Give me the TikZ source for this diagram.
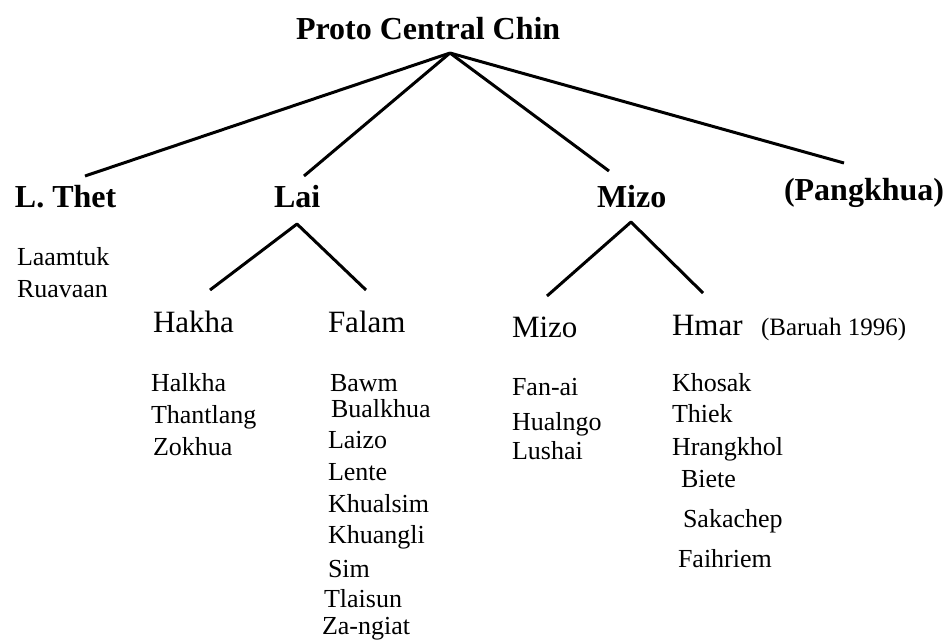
\documentclass[tikz,border=0pt]{standalone}
\usepackage{fontspec}
\setmainfont{Liberation Serif}
\begin{document}
\begin{tikzpicture}[x=1pt,y=-1pt,
  lbl/.style={anchor=base west,inner sep=0pt,outer sep=0pt},
  toplbl/.style={lbl,font=\fontsize{32}{36}\selectfont\bfseries},
  grp/.style={lbl,font=\fontsize{31}{35}\selectfont},
  dialect/.style={lbl,font=\fontsize{26}{30}\selectfont},
  cite/.style={lbl,font=\fontsize{25}{29}\selectfont},
  branch/.style={line width=3pt,line cap=butt,line join=round}]
\useasboundingbox (0,0) rectangle (946,641);

% root
\node[toplbl] (pcc) at (296,39) {Proto Central Chin};

% first-level branches
\node[toplbl] (lthet) at (15,207) {L. Thet};
\node[toplbl] (lai) at (274,207) {Lai};
\node[toplbl] (mizo) at (597,207) {Mizo};
\node[toplbl] (pangkhua) at (784,200) {(Pangkhua)};

% branch points and line ends
\coordinate (pcc-fork) at (450,53);
\coordinate (lthet-end) at (85,176);
\coordinate (lai-end) at (304,176);
\coordinate (mizo-end) at (609,171);
\coordinate (pangkhua-end) at (844,163);
\coordinate (lai-fork) at (297,224);
\coordinate (hakha-end) at (210,290);
\coordinate (falam-end) at (366,290);
\coordinate (mizo-fork) at (631,222);
\coordinate (mizo2-end) at (547,296);
\coordinate (hmar-end) at (703,293);

\draw[branch] (pcc-fork) -- (lthet-end);
\draw[branch] (pcc-fork) -- (lai-end);
\draw[branch] (pcc-fork) -- (mizo-end);
\draw[branch] (pcc-fork) -- (pangkhua-end);
\draw[branch] (hakha-end) -- (lai-fork) -- (falam-end);
\draw[branch] (mizo2-end) -- (mizo-fork) -- (hmar-end);

% L. Thet varieties
\node[dialect] (laamtuk) at (17,265) {Laamtuk};
\node[dialect] (ruavaan) at (17,297) {Ruavaan};

% Lai subgroups
\node[grp] (hakha) at (153,332) {Hakha};
\node[grp] (falam) at (328,332) {Falam};

\node[dialect] (halkha) at (151,391) {Halkha};
\node[dialect] (thantlang) at (151,423) {Thantlang};
\node[dialect] (zokhua) at (153,455) {Zokhua};

\node[dialect] (bawm) at (330,391) {Bawm};
\node[dialect] (bualkhua) at (331,417) {Bualkhua};
\node[dialect] (laizo) at (328,448) {Laizo};
\node[dialect] (lente) at (328,480) {Lente};
\node[dialect] (khualsim) at (328,512) {Khualsim};
\node[dialect] (khuangli) at (328,543) {Khuangli};
\node[dialect] (sim) at (328,577) {Sim};
\node[dialect] (tlaisun) at (324,607) {Tlaisun};
\node[dialect] (zangiat) at (322,634) {Za-ngiat};

% Mizo subgroups
\node[grp] (mizo2) at (512,337) {Mizo};
\node[grp] (hmar) at (672,335) {Hmar};
\node[cite] (baruah) at (761,335) {(Baruah 1996)};

\node[dialect] (fanai) at (512,395) {Fan-ai};
\node[dialect] (hualngo) at (512,430) {Hualngo};
\node[dialect] (lushai) at (512,459) {Lushai};

\node[dialect] (khosak) at (672,391) {Khosak};
\node[dialect] (thiek) at (672,422) {Thiek};
\node[dialect] (hrangkhol) at (672,455) {Hrangkhol};
\node[dialect] (biete) at (681,487) {Biete};
\node[dialect] (sakachep) at (683,527) {Sakachep};
\node[dialect] (faihriem) at (678,567) {Faihriem};
\end{tikzpicture}
\end{document}
